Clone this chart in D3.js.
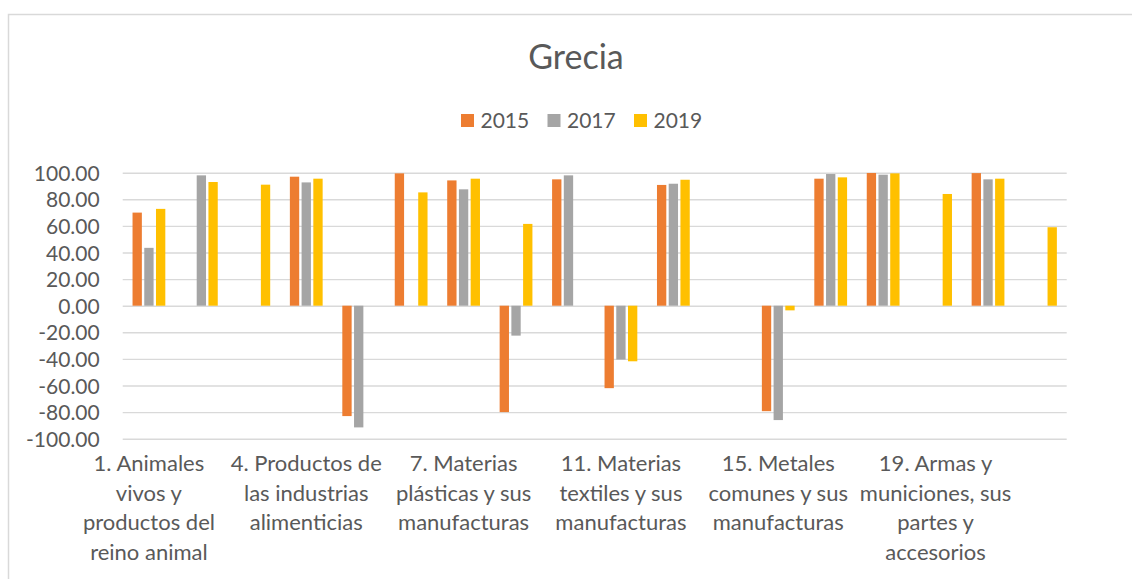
<!DOCTYPE html>
<html>
<head>
<meta charset="utf-8">
<script src="https://cdn.jsdelivr.net/npm/d3@7"></script>
<style>
  html, body { margin: 0; padding: 0; background: #ffffff; }
  svg { display: block; }
  text { font-family: Lato, "Open Sans", sans-serif; fill: #595959; }
</style>
</head>
<body>
<div id="chart"></div>
<script>
// chart data
let title = "Grecia";
let years = ["2015", "2017", "2019"];
let colors = ["#ED7D31", "#A5A5A5", "#FFC000"];

// line breaks copy the wrapping of the original
let categories = [
    "1. Animales\nvivos y\nproductos del\nreino animal",
    "2. Productos del reino vegetal",
    "3. Grasas y aceites",
    "4. Productos de\nlas industrias\nalimenticias",
    "5. Productos minerales",
    "6. Productos de las industrias químicas",
    "7. Materias\nplásticas y sus\nmanufacturas",
    "8. Pieles y cueros",
    "9. Madera y sus manufacturas",
    "11. Materias\ntextiles y sus\nmanufacturas",
    "12. Calzado",
    "13. Manufacturas de piedra",
    "15. Metales\ncomunes y sus\nmanufacturas",
    "16. Máquinas y aparatos",
    "17. Material de transporte",
    "19. Armas y\nmuniciones, sus\npartes y\naccesorios",
    "20. Mercancías y productos diversos",
    "21. Objetos de arte"
];

let values2015 = [70.0, null, null, 97.0, -83.0, 99.5, 94.2, -80.0, 95.0, -62.0, 90.8, null, -79.3, 95.5, 99.8, null, 99.7, null];
let values2017 = [43.5, 98.0, null, 92.7, -91.5, null, 87.5, -22.5, 98.0, -40.5, 91.7, null, -86.0, 99.0, 98.5, null, 95.0, null];
let values2019 = [72.8, 93.0, 91.0, 95.5, null, 85.2, 95.5, 61.5, null, -41.8, 94.7, null, -3.5, 96.5, 99.5, 84.0, 95.5, 59.0];

let yTicks = [100, 80, 60, 40, 20, 0, -20, -40, -60, -80, -100];
let labelEvery = 3;

let width = 1132;
let height = 579;

/*****************
 * SCALES / SETUP
 *****************/

let series = [values2015, values2017, values2019];

let plot = { left: 122.7, right: 1066.7, top: 172.7, bottom: 438.7 };

let svg = d3.select("#chart")
    .append("svg")
    .attr("width", width)
    .attr("height", height)
    .style("overflow", "hidden");

// outer chart border (cut by the picture edge on the right and bottom)
svg.append("rect")
    .attr("x", 8.5)
    .attr("y", 14.5)
    .attr("width", 1300)
    .attr("height", 800)
    .attr("fill", "#ffffff")
    .attr("stroke", "#D9D9D9")
    .attr("stroke-width", 1.5);

let x0 = d3.scaleBand()
    .domain(d3.range(categories.length))
    .range([plot.left, plot.right])
    .padding(0);

let groupWidth = x0.bandwidth() * 0.625;

let x1 = d3.scaleBand()
    .domain(years)
    .range([-groupWidth / 2, groupWidth / 2])
    .paddingInner(0.205)
    .paddingOuter(0);

let y = d3.scaleLinear()
    .domain([-100, 100])
    .range([plot.bottom, plot.top]);

/************
 * GRIDLINES
 ************/

let yAxis = d3.axisLeft(y)
    .tickValues(yTicks)
    .tickFormat(d3.format(".2f"))
    .tickSize(-(plot.right - plot.left))
    .tickPadding(23);

let yAxisG = svg.append("g")
    .attr("transform", "translate(" + plot.left + ",0)")
    .call(yAxis);

yAxisG.select(".domain").remove();
yAxisG.selectAll(".tick line")
    .attr("stroke", "#D9D9D9")
    .attr("stroke-width", 1.4);
yAxisG.selectAll(".tick text")
    .attr("font-size", 21)
    .attr("font-family", "Lato, sans-serif")
    .attr("fill", "#595959")
    .attr("dy", "0.36em")
    .text(d => d3.format(".2f")(d).replace("−", "-"));

/*******
 * BARS
 *******/

series.forEach(function(values, s)
{
    svg.append("g")
        .attr("fill", colors[s])
        .selectAll("rect")
        .data(values.map((v, i) => ({ i: i, v: v })).filter(d => d.v !== null))
        .enter()
        .append("rect")
        .attr("x", d => x0(d.i) + x0.bandwidth() / 2 + x1(years[s]))
        .attr("width", x1.bandwidth())
        .attr("y", d => y(Math.max(0, d.v)))
        .attr("height", d => Math.abs(y(d.v) - y(0)));
});

/********************
 * CATEGORY LABELS
 ********************/

let lineHeight = 29.5;

let xLabels = svg.append("g")
    .selectAll("text")
    .data(categories.map((c, i) => ({ i: i, lines: c.split("\n") })).filter(d => d.i % labelEvery === 0))
    .enter()
    .append("text")
    .attr("text-anchor", "middle")
    .attr("font-size", 22)
    .attr("x", d => x0(d.i) + x0.bandwidth() / 2)
    .attr("y", 471);

xLabels.selectAll("tspan")
    .data(d => d.lines.map(l => ({ line: l, x: x0(d.i) + x0.bandwidth() / 2 })))
    .enter()
    .append("tspan")
    .attr("x", d => d.x)
    .attr("dy", (d, k) => k === 0 ? 0 : lineHeight)
    .text(d => d.line);

/*****************
 * TITLE / LEGEND
 *****************/

svg.append("text")
    .attr("x", 576)
    .attr("y", 69)
    .attr("text-anchor", "middle")
    .attr("font-size", 34)
    .text(title);

let legendX = d3.scalePoint()
    .domain(years)
    .range([461, 634]);

let legend = svg.append("g")
    .selectAll("g")
    .data(years)
    .enter()
    .append("g")
    .attr("transform", d => "translate(" + legendX(d) + ",0)");

legend.append("rect")
    .attr("x", 0)
    .attr("y", 114)
    .attr("width", 13)
    .attr("height", 13)
    .attr("fill", (d, i) => colors[i]);

legend.append("text")
    .attr("x", 19.5)
    .attr("y", 127.5)
    .attr("font-size", 21)
    .text(d => d);
</script>
</body>
</html>
